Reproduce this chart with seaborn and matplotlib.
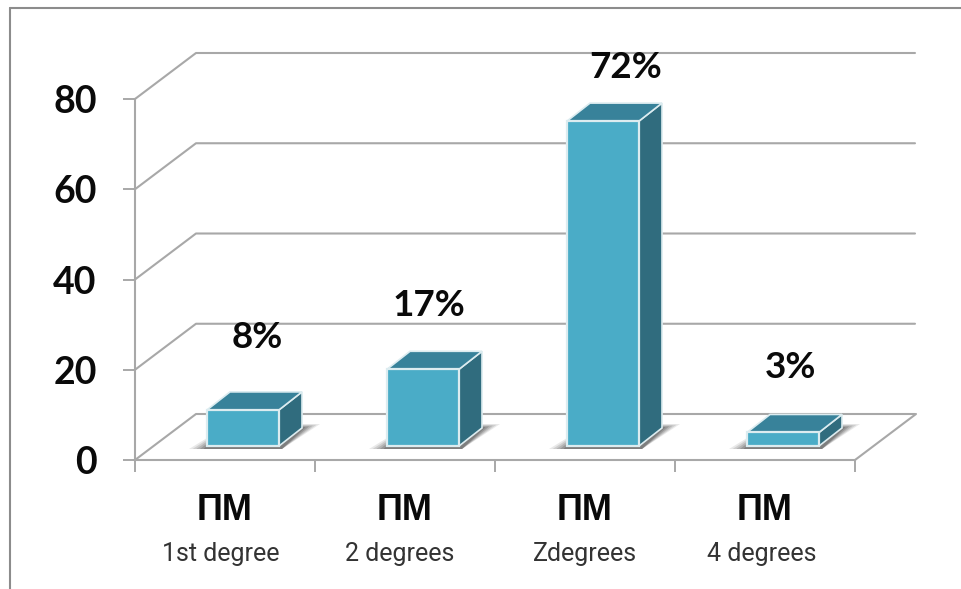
import matplotlib
matplotlib.use("Agg")
import matplotlib.pyplot as plt
from matplotlib.lines import Line2D
from matplotlib.patches import Polygon
from matplotlib.transforms import Affine2D
import pandas as pd
import seaborn as sns

# Chart values
categories = ["1st degree", "2 degrees", "Zdegrees", "4 degrees"]
group_label = "ПМ"
values = [8, 17, 72, 3]
value_labels = ["8%", "17%", "72%", "3%"]
y_ticks = [0, 20, 40, 60, 80]

# Placement of the captions, in pixels
caption_nudge_x = [14, 6, 23, 7]
caption_rise = [76, 68, 58, 69]
degree_nudge_x = [-4, -5, 0, -3]

# Colours
FRONT = "#4aacc7"
TOP = "#38829a"
SIDE = "#306c7e"
EDGE = "#dcecf0"
GRID = "#a8a8a8"
INK = "#0a0a0a"
SUB_INK = "#333333"

W, H = 961, 589
sns.set_theme(style="white")
plt.rcParams["font.family"] = ["Lato", "Liberation Sans", "DejaVu Sans"]
fig = plt.figure(figsize=(W / 100, H / 100), dpi=100, facecolor="white")

# The axes rectangle is the front plane of the 3-D box
left, right, top, bottom = 135, 855, 99, 460
ax = fig.add_axes([left / W, 1 - bottom / H, (right - left) / W, (bottom - top) / H])

frame = pd.DataFrame({"degree": categories, "share": values})

# Unit conversion for the oblique projection
PX_X = 1 / 180
PX_Y = 80 / 361
DEPTH_X = 61 * PX_X
DEPTH_Y = 46 * PX_Y
BAR_SHIFT_X = 18 * PX_X
BAR_SHIFT_Y = 14 * PX_Y
BAR_DX = 23 * PX_X
BAR_DY = 18 * PX_Y

sns.barplot(data=frame, x="degree", y="share", order=categories, width=0.4,
            color=FRONT, saturation=1, ax=ax, zorder=5,
            edgecolor=EDGE, linewidth=1.6, clip_on=False)
ax.set_xlim(-0.5, 3.5)
ax.set_ylim(0, 80)

# Move each front face from the front plane to its seat on the floor
shift = Affine2D().translate(BAR_SHIFT_X, BAR_SHIFT_Y)
for patch in ax.patches:
    patch.set_transform(shift + ax.transData)

# Walls and floor
wall_kw = dict(color=GRID, lw=1.5, clip_on=False, zorder=1, solid_capstyle="round")
for tick in y_ticks:
    ax.plot([-0.5, -0.5 + DEPTH_X, 3.5 + DEPTH_X - 1 / 180],
            [tick, tick + DEPTH_Y, tick + DEPTH_Y], **wall_kw)
ax.plot([3.5, 3.5 + DEPTH_X], [0, DEPTH_Y], **wall_kw)

# Side and top faces with a soft floor shadow beneath each bar
for i, value in enumerate(values):
    x0 = i - 0.2 + BAR_SHIFT_X
    x1 = i + 0.2 + BAR_SHIFT_X
    y0 = BAR_SHIFT_Y
    y1 = value + BAR_SHIFT_Y
    for grow, alpha in [(1.0, 0.12), (0.8, 0.16), (0.6, 0.2), (0.4, 0.26), (0.2, 0.32)]:
        ax.add_patch(Polygon(
            [(x0 - grow * 18 * PX_X, y0 - 3 * PX_Y),
             (x1 + 3 * PX_X, y0 - 3 * PX_Y),
             (x1 + BAR_DX + grow * 18 * PX_X, y0 + BAR_DY + grow * 4 * PX_Y),
             (x0 + BAR_DX, y0 + BAR_DY + grow * 4 * PX_Y)],
            closed=True, fc="#4a4a4a", ec="none", alpha=alpha, zorder=2, clip_on=False))
    ax.add_patch(Polygon(
        [(x1, y0), (x1 + BAR_DX, y0 + BAR_DY), (x1 + BAR_DX, y1 + BAR_DY), (x1, y1)],
        closed=True, fc=SIDE, ec=EDGE, lw=1.2, zorder=4, clip_on=False))
    ax.add_patch(Polygon(
        [(x0, y1), (x1, y1), (x1 + BAR_DX, y1 + BAR_DY), (x0 + BAR_DX, y1 + BAR_DY)],
        closed=True, fc=TOP, ec=EDGE, lw=1.2, zorder=4, clip_on=False))

    ax.annotate(value_labels[i], xy=(x0 + 0.2, y1),
                xytext=(caption_nudge_x[i] * 0.72, (caption_rise[i] - 4) * 0.72),
                textcoords="offset points", ha="center", va="center",
                fontsize=26.5, fontweight="bold", color=INK, zorder=6,
                annotation_clip=False)

# Axis lines and ticks
sns.despine(ax=ax, top=True, right=True)
for side in ("left", "bottom"):
    ax.spines[side].set_color(GRID)
    ax.spines[side].set_linewidth(1.5)
ax.set_xlabel("")
ax.set_ylabel("")
ax.set_yticks(y_ticks)
ax.tick_params(axis="y", length=8.6, width=1.4, color=GRID, pad=19,
               labelsize=27, labelcolor=INK, left=True)
ax.set_xticks(range(len(categories)))
ax.set_xticklabels([group_label] * len(categories), fontsize=26, fontweight="bold",
                   color=INK, family=["Liberation Sans", "DejaVu Sans"])
ax.set_xticks([i - 0.5 for i in range(len(categories) + 1)], minor=True)
ax.tick_params(axis="x", which="major", length=0, pad=24, bottom=False)
ax.tick_params(axis="x", which="minor", length=8.6, width=1.4, color=GRID, bottom=True)
for label in ax.get_yticklabels():
    label.set_fontweight("bold")

# Degree captions under the group labels
for i, name in enumerate(categories):
    ax.annotate(name, xy=(i, 0), xycoords=ax.get_xaxis_transform(),
                xytext=(degree_nudge_x[i] * 0.72, -94.5 * 0.72), textcoords="offset points",
                ha="center", va="center", fontsize=18, color=SUB_INK,
                family="Roboto", annotation_clip=False)

# Thin frame running along the top and left of the figure
for xs, ys in [((10 / W, 1), (1 - 8 / H, 1 - 8 / H)), ((10 / W, 10 / W), (0, 1 - 8 / H))]:
    fig.add_artist(Line2D(xs, ys, color="#8c8c8c", lw=1.5))

fig.savefig("out.png", dpi=100, facecolor="white")
